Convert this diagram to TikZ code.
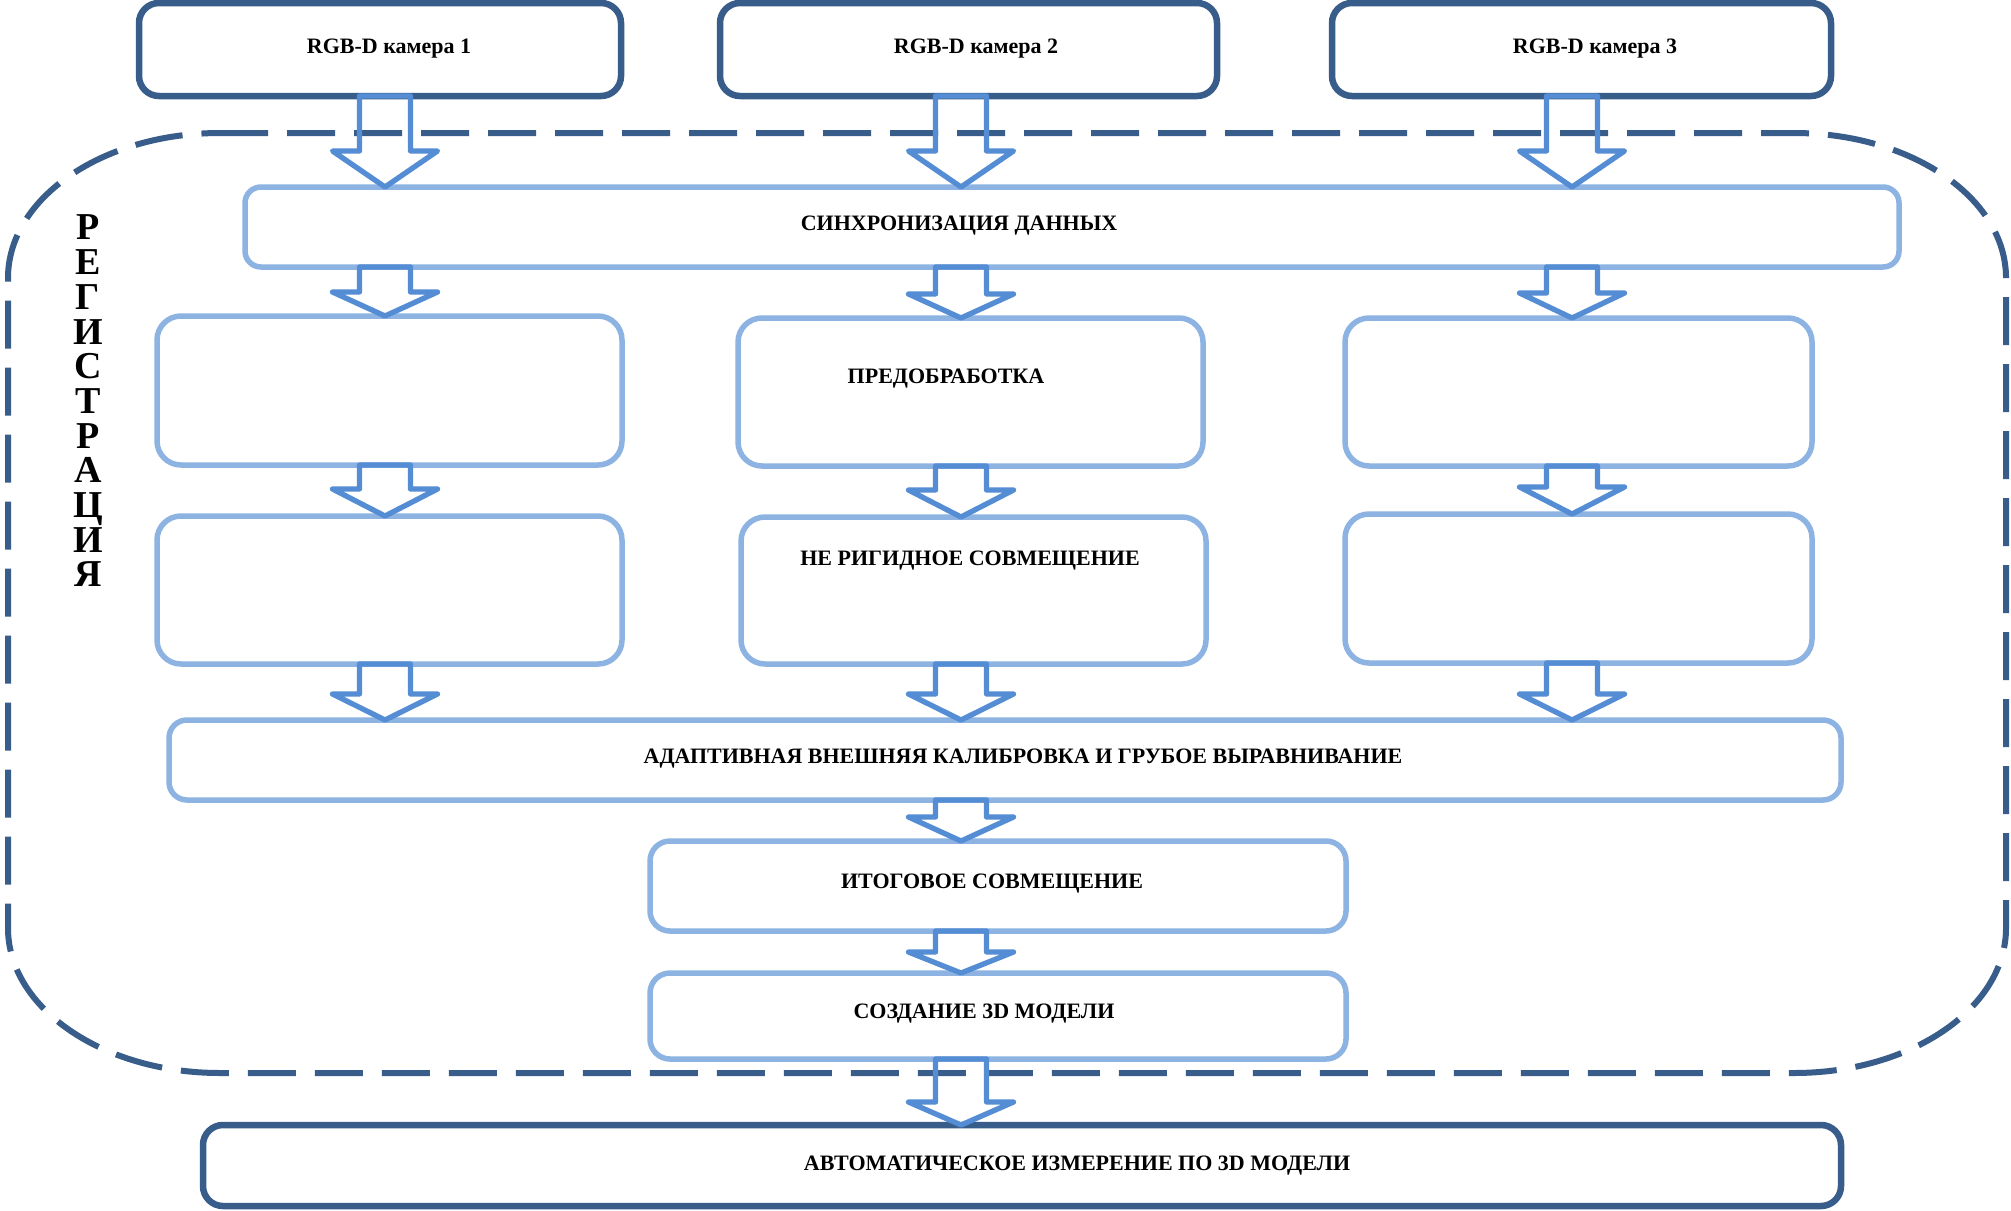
\documentclass[tikz,border=0pt]{standalone}
\usepackage{fontspec}
\setmainfont{Liberation Serif}
\usetikzlibrary{calc}

\definecolor{outlineblue}{HTML}{385D8A}
\definecolor{paleblue}{HTML}{8DB3E2}
\definecolor{arrowblue}{HTML}{548DD4}

\tikzset{
  darkbox/.style={draw=outlineblue, line width=3.25pt, rounded corners=10pt,
                  outer sep=0pt, inner sep=0pt},
  lightbox/.style={draw=paleblue, line width=2.75pt, rounded corners=10pt,
                   outer sep=0pt, inner sep=0pt},
  caption/.style={font=\fontsize{11}{13.2}\selectfont\bfseries,
                  anchor=base, inner sep=0pt},
  flowarr/.style={draw=arrowblue, line width=2.65pt, line join=round},
  region/.style={draw=outlineblue, line width=3pt, dash pattern=on 24pt off 9.5pt},
}

% hollow block arrow: #1 = x of the axis, #2 = source node, #3 = target node,
% #4 = length of the head
\newcommand\flowarrow[4]{%
  \draw[flowarr] let \p1=(#2.south), \p2=(#3.north) in
    ({(#1-25.5)*0.5pt},\y1) -- ({(#1-25.5)*0.5pt},{\y2+#4*0.5pt})
    -- ({(#1-52.5)*0.5pt},{\y2+#4*0.5pt}) -- ({#1*0.5pt},\y2)
    -- ({(#1+52.5)*0.5pt},{\y2+#4*0.5pt}) -- ({(#1+25.5)*0.5pt},{\y2+#4*0.5pt})
    -- ({(#1+25.5)*0.5pt},\y1) -- cycle;
}

\begin{document}
\begin{tikzpicture}[x=0.5pt,y=-0.5pt]
  \useasboundingbox (0,0) rectangle (2011,1210);
  \fill[white] (0,0) rectangle (2011,1210);

  % registration area
  \draw[region] (220,133) -- (1794,133)
    arc[start angle=90, end angle=0, x radius=106pt, y radius=72.5pt]
    -- (2006,928)
    arc[start angle=0, end angle=-90, x radius=106pt, y radius=72.5pt]
    -- (220,1073)
    arc[start angle=270, end angle=180, x radius=106pt, y radius=72.5pt]
    -- (8,278)
    arc[start angle=180, end angle=90, x radius=106pt, y radius=72.5pt]
    -- cycle;

  \node[font=\fontsize{19}{17.35}\selectfont\bfseries, align=center, inner sep=0pt]
    (reg) at (88,401) {Р\\Е\\Г\\И\\С\\Т\\Р\\А\\Ц\\И\\Я};

  % cameras
  \node[darkbox, minimum width=241pt, minimum height=46.5pt] (cam1) at (380,49.5) {};
  \node[darkbox, minimum width=248.5pt, minimum height=46.5pt] (cam2) at (968.5,49.5) {};
  \node[darkbox, minimum width=249.5pt, minimum height=46.5pt] (cam3) at (1581.5,49.5) {};
  \node[caption] (cam1-t) at (389,54) {RGB-D камера 1};
  \node[caption] (cam2-t) at (976,54) {RGB-D камера 2};
  \node[caption] (cam3-t) at (1595,53) {RGB-D камера 3};

  % synchronisation
  \node[lightbox, rounded corners=8pt, minimum width=827pt, minimum height=40pt] (sync) at (1072,227) {};
  \node[caption] (sync-t) at (959,230) {СИНХРОНИЗАЦИЯ ДАННЫХ};

  % preprocessing
  \node[lightbox, rounded corners=12pt, minimum width=232.5pt, minimum height=74.5pt] (pre1) at (389.5,390.5) {};
  \node[lightbox, rounded corners=12pt, minimum width=232.5pt, minimum height=74pt] (pre2) at (970.5,392) {};
  \node[lightbox, rounded corners=12pt, minimum width=233.5pt, minimum height=74pt] (pre3) at (1578.5,392) {};
  \node[caption] (pre2-t) at (946,383) {ПРЕДОБРАБОТКА};

  % non-rigid registration
  \node[lightbox, rounded corners=12pt, minimum width=232.5pt, minimum height=74pt] (nr1) at (389.5,590) {};
  \node[lightbox, rounded corners=12pt, minimum width=232.5pt, minimum height=73.5pt] (nr2) at (973.5,590.5) {};
  \node[lightbox, rounded corners=12pt, minimum width=233.5pt, minimum height=74.5pt] (nr3) at (1578.5,588.5) {};
  \node[caption] (nr2-t) at (970,565) {НЕ РИГИДНОЕ СОВМЕЩЕНИЕ};

  % calibration and coarse alignment
  \node[lightbox, rounded corners=9pt, minimum width=836pt, minimum height=40pt] (calib) at (1005,760) {};
  \node[caption] (calib-t) at (1023,763) {АДАПТИВНАЯ ВНЕШНЯЯ КАЛИБРОВКА И ГРУБОЕ ВЫРАВНИВАНИЕ};

  % final registration and model
  \node[lightbox, minimum width=348pt, minimum height=45pt] (final) at (998,886) {};
  \node[caption] (final-t) at (992,888) {ИТОГОВОЕ СОВМЕЩЕНИЕ};
  \node[lightbox, minimum width=348pt, minimum height=43pt] (model) at (998,1016) {};
  \node[caption] (model-t) at (984,1018) {СОЗДАНИЕ 3D МОДЕЛИ};

  % measurement
  \node[darkbox, minimum width=819pt, minimum height=40.5pt] (meas) at (1022,1165.5) {};
  \node[caption] (meas-t) at (1077,1170) {АВТОМАТИЧЕСКОЕ ИЗМЕРЕНИЕ ПО 3D МОДЕЛИ};

  % flow
  \flowarrow{385}{cam1}{sync}{36}
  \flowarrow{961}{cam2}{sync}{36}
  \flowarrow{1572}{cam3}{sync}{36}
  \flowarrow{385}{sync}{pre1}{24}
  \flowarrow{961}{sync}{pre2}{24}
  \flowarrow{1572}{sync}{pre3}{25}
  \flowarrow{385}{pre1}{nr1}{27}
  \flowarrow{961}{pre2}{nr2}{27}
  \flowarrow{1572}{pre3}{nr3}{27}
  \flowarrow{385}{nr1}{calib}{26}
  \flowarrow{961}{nr2}{calib}{26}
  \flowarrow{1572}{nr3}{calib}{26}
  \flowarrow{961}{calib}{final}{24}
  \flowarrow{961}{final}{model}{21}
  \flowarrow{961}{model}{meas}{23}
\end{tikzpicture}
\end{document}
